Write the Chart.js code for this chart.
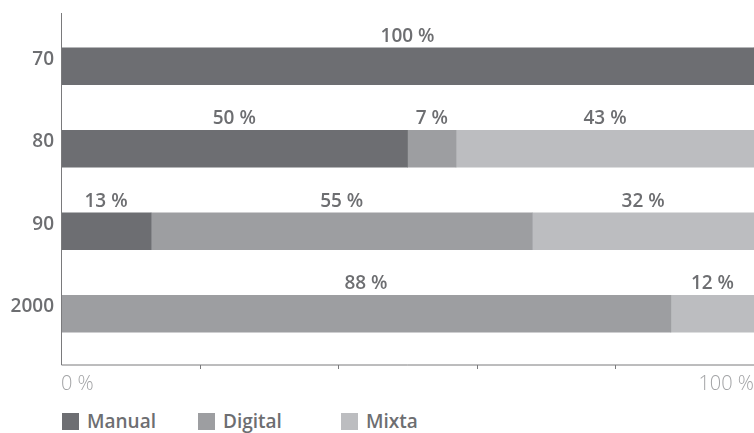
<!DOCTYPE html>
<html>
<head>
<meta charset="utf-8">
<script src="https://cdn.jsdelivr.net/npm/chart.js@4.4.1/dist/chart.umd.min.js"></script>
<style>
    html, body { margin: 0; padding: 0; background: #fff; }
    #wrap { position: relative; width: 754px; height: 433px; font-family: 'Open Sans', sans-serif; }
    #box { position: absolute; left: 0; top: 0; width: 754px; height: 395px; }
    .legend-item { position: absolute; top: 409px; height: 24px; line-height: 24px;
        font-size: 19px; font-weight: 600; color: #6d6e71; white-space: nowrap; }
    .legend-item i { display: inline-block; width: 17px; height: 17px; vertical-align: -2px; margin-right: 8px; }
</style>
</head>
<body>
<div id="wrap">
    <div id="box"><canvas id="chart"></canvas></div>
    <div id="legend"></div>
</div>
<script>
(function () {
    'use strict';

    var DECADES = ['70', '80', '90', '2000'];
    var MANUAL = [100, 50, 13, 0];
    var DIGITAL = [0, 7, 55, 88];
    var MIXTA = [0, 43, 32, 12];

    var SERIES_NAMES = ['Manual', 'Digital', 'Mixta'];
    var COLORS = ['#6d6e72', '#9d9ea1', '#bcbdc0'];
    var LEGEND_LEFT = [62, 198, 341];

    var TEXT = '#6d6e71';
    var AXIS = '#7a7a7c';

    // axis lines, tick marks and segment labels
    var decorPlugin = {
        id: 'decor',
        afterDatasetsDraw: function (chart) {
            var ctx = chart.ctx;
            var area = chart.chartArea;
            var xs = chart.scales.x;
            var axisY = area.bottom + 10;

            ctx.save();
            ctx.strokeStyle = AXIS;
            ctx.lineWidth = 1;
            ctx.beginPath();
            ctx.moveTo(area.left + 0.5, area.top - 12);
            ctx.lineTo(area.left + 0.5, axisY);
            ctx.lineTo(area.right, axisY);
            for (var v = 20; v < 100; v += 20) {
                var px = Math.round(xs.getPixelForValue(v)) + 0.5;
                ctx.moveTo(px, axisY);
                ctx.lineTo(px, axisY + 4);
            }
            ctx.stroke();

            ctx.fillStyle = TEXT;
            ctx.font = '600 19px "Open Sans"';
            ctx.textAlign = 'center';
            ctx.textBaseline = 'alphabetic';
            chart.data.datasets.forEach(function (ds, di) {
                var meta = chart.getDatasetMeta(di);
                meta.data.forEach(function (el, i) {
                    var val = ds.data[i];
                    if (!val) { return; }
                    var cx = (el.x + el.base) / 2;
                    var top = el.y - el.height / 2;
                    ctx.fillText(val + ' %', cx, top - 6);
                });
            });
            ctx.restore();
        }
    };

    var datasets = [MANUAL, DIGITAL, MIXTA].map(function (arr, i) {
        return {
            label: SERIES_NAMES[i],
            data: arr,
            backgroundColor: COLORS[i],
            borderWidth: 0,
            barThickness: 37
        };
    });

    new Chart(document.getElementById('chart'), {
        type: 'bar',
        data: { labels: DECADES, datasets: datasets },
        plugins: [decorPlugin],
        options: {
            indexAxis: 'y',
            responsive: true,
            maintainAspectRatio: false,
            animation: false,
            layout: { padding: { top: 25, left: 0, right: 0, bottom: 0 } },
            plugins: {
                legend: { display: false },
                tooltip: { enabled: false }
            },
            scales: {
                x: {
                    stacked: true,
                    min: 0,
                    max: 100,
                    afterFit: function (s) {
                        s.height = 40;
                        s.paddingLeft = 0;
                        s.paddingRight = 0;
                    },
                    grid: { display: false, drawTicks: false },
                    border: { display: false },
                    ticks: {
                        stepSize: 20,
                        autoSkip: false,
                        maxRotation: 0,
                        align: 'inner',
                        padding: 17,
                        color: '#a3a4a6',
                        font: { family: 'Open Sans', size: 20, weight: 300 },
                        callback: function (v) {
                            return (v === 0 || v === 100) ? v + ' %' : '';
                        }
                    }
                },
                y: {
                    stacked: true,
                    afterFit: function (s) { s.width = 61; },
                    grid: { display: false, drawTicks: false },
                    border: { display: false },
                    ticks: {
                        padding: 7,
                        labelOffset: -7,
                        color: TEXT,
                        font: { family: 'Open Sans', size: 19, weight: 600 }
                    }
                }
            }
        }
    });

    var legend = document.getElementById('legend');
    SERIES_NAMES.forEach(function (name, i) {
        var item = document.createElement('div');
        item.className = 'legend-item';
        item.style.left = LEGEND_LEFT[i] + 'px';
        var sw = document.createElement('i');
        sw.style.background = COLORS[i];
        item.appendChild(sw);
        item.appendChild(document.createTextNode(name));
        legend.appendChild(item);
    });
})();
</script>
</body>
</html>
